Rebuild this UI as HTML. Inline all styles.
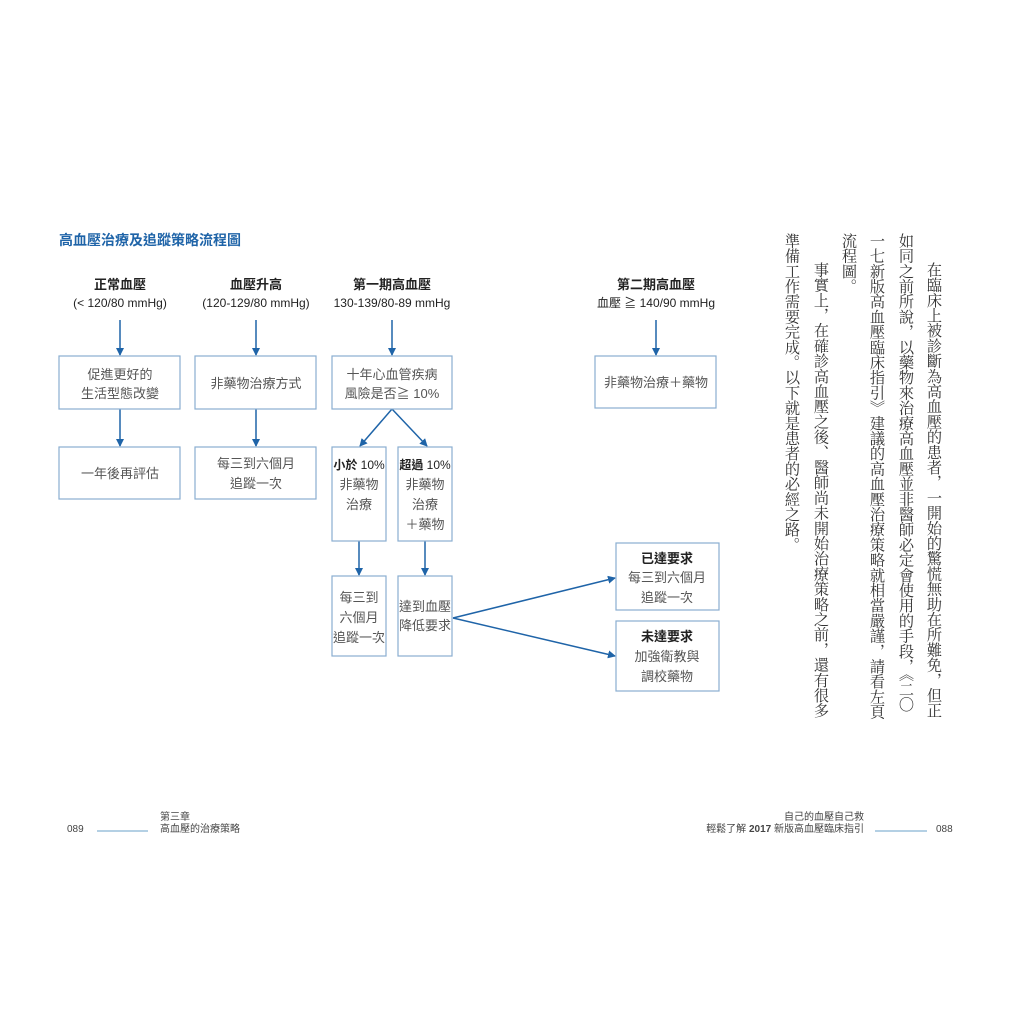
<!DOCTYPE html>
<html><head><meta charset="utf-8"><style>
html,body{margin:0;padding:0;background:#fff;}
body{width:1024px;height:1024px;position:relative;overflow:hidden;font-family:"Liberation Sans","Noto Sans CJK TC",sans-serif;}
.v{position:absolute;writing-mode:vertical-rl;font-family:"Liberation Serif","Noto Serif CJK SC",serif;font-size:15.2px;line-height:15px;color:#333;white-space:nowrap;}
</style></head><body>
<svg width="1024" height="1024" style="position:absolute;left:0;top:0" font-family="Liberation Sans, Noto Sans CJK TC, sans-serif">
<defs><marker id="a" markerWidth="8" markerHeight="8" refX="7" refY="4" orient="auto" markerUnits="userSpaceOnUse"><path d="M0,0 L8,4 L0,8z" fill="#1f64a8"/></marker></defs>
<text x="59" y="245" font-size="14" font-weight="bold" fill="#1f64a8">高血壓治療及追蹤策略流程圖</text>
<g font-size="13" text-anchor="middle" fill="#222">
<text x="120" y="289" font-weight="bold">正常血壓</text><text x="120" y="307" font-size="12">(&lt; 120/80 mmHg)</text>
<text x="256" y="289" font-weight="bold">血壓升高</text><text x="256" y="307" font-size="12">(120-129/80 mmHg)</text>
<text x="392" y="289" font-weight="bold">第一期高血壓</text><text x="392" y="307" font-size="12">130-139/80-89 mmHg</text>
<text x="656" y="289" font-weight="bold">第二期高血壓</text><text x="656" y="307" font-size="12">血壓 ≧ 140/90 mmHg</text>
</g>
<g stroke="#1f64a8" stroke-width="1.5" marker-end="url(#a)" fill="none">
<line x1="120" y1="320" x2="120" y2="355"/><line x1="256" y1="320" x2="256" y2="355"/><line x1="392" y1="320" x2="392" y2="355"/><line x1="656" y1="320" x2="656" y2="355"/>
<line x1="120" y1="409" x2="120" y2="446"/><line x1="256" y1="409" x2="256" y2="446"/>
<line x1="392" y1="409" x2="360" y2="446"/><line x1="392" y1="409" x2="427" y2="446"/>
<line x1="359" y1="541" x2="359" y2="575"/><line x1="425" y1="541" x2="425" y2="575"/>
<line x1="453" y1="618" x2="615" y2="578"/><line x1="453" y1="618" x2="615" y2="656"/>
</g>
<g fill="none" stroke="#8aaed0" stroke-width="1.2">
<rect x="59" y="356" width="121" height="53"/><rect x="59" y="447" width="121" height="52"/>
<rect x="195" y="356" width="121" height="53"/><rect x="195" y="447" width="121" height="52"/>
<rect x="332" y="356" width="120" height="53"/>
<rect x="332" y="447" width="54" height="94"/><rect x="398" y="447" width="54" height="94"/>
<rect x="332" y="576" width="54" height="80"/><rect x="398" y="576" width="54" height="80"/>
<rect x="595" y="356" width="121" height="52"/>
<rect x="616" y="543" width="103" height="67"/><rect x="616" y="621" width="103" height="70"/>
</g>
<g font-size="13" text-anchor="middle" fill="#555">
<text x="120" y="379">促進更好的</text><text x="120" y="398">生活型態改變</text>
<text x="120" y="478">一年後再評估</text>
<text x="256" y="388">非藥物治療方式</text>
<text x="256" y="468">每三到六個月</text><text x="256" y="488">追蹤一次</text>
<text x="392" y="379">十年心血管疾病</text><text x="392" y="398">風險是否≧ 10%</text>
<text x="359" y="469" font-size="12" fill="#222"><tspan font-weight="bold">小於</tspan> 10%</text>
<text x="359" y="489">非藥物</text><text x="359" y="509">治療</text>
<text x="425" y="469" font-size="12" fill="#222"><tspan font-weight="bold">超過</tspan> 10%</text>
<text x="425" y="489">非藥物</text><text x="425" y="509">治療</text><text x="425" y="529">＋藥物</text>
<text x="359" y="602">每三到</text><text x="359" y="622">六個月</text><text x="359" y="642">追蹤一次</text>
<text x="425" y="611">達到血壓</text><text x="425" y="630">降低要求</text>
<text x="656" y="387">非藥物治療＋藥物</text>
<text x="667" y="563" font-weight="bold" fill="#222">已達要求</text><text x="667" y="582">每三到六個月</text><text x="667" y="602">追蹤一次</text>
<text x="667" y="641" font-weight="bold" fill="#222">未達要求</text><text x="667" y="661">加強衛教與</text><text x="667" y="681">調校藥物</text>
</g>
<g font-size="10" fill="#444">
<text x="67" y="832">089</text>
<line x1="97" y1="831" x2="148" y2="831" stroke="#6aa0c8" stroke-width="1"/>
<text x="160" y="820">第三章</text><text x="160" y="832">高血壓的治療策略</text>
<text x="864" y="820" text-anchor="end">自己的血壓自己救</text>
<text x="864" y="832" text-anchor="end">輕鬆了解 <tspan font-weight="bold">2017</tspan> 新版高血壓臨床指引</text>
<line x1="875" y1="831" x2="927" y2="831" stroke="#6aa0c8" stroke-width="1"/>
<text x="936" y="832">088</text>
</g>
</svg>
<div class="v" style="left:926px;top:262px">在臨床上被診斷為高血壓的患者，一開始的驚慌無助在所難免，但正</div>
<div class="v" style="left:898px;top:233px">如同之前所說，以藥物來治療高血壓並非醫師必定會使用的手段，《二〇</div>
<div class="v" style="left:869px;top:233px">一七新版高血壓臨床指引》建議的高血壓治療策略就相當嚴謹，請看左頁</div>
<div class="v" style="left:841px;top:233px">流程圖。</div>
<div class="v" style="left:813px;top:262px">事實上，在確診高血壓之後、醫師尚未開始治療策略之前，還有很多</div>
<div class="v" style="left:784px;top:233px">準備工作需要完成。以下就是患者的必經之路。</div>
</body></html>
